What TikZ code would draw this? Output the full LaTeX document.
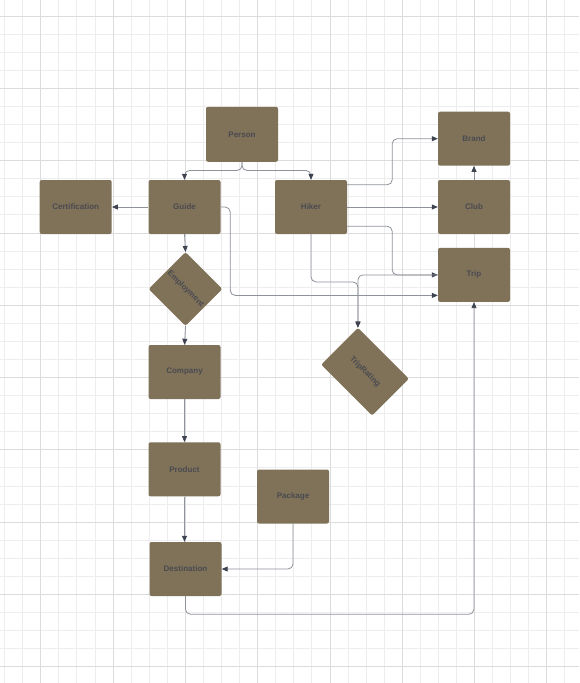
\documentclass[tikz,border=0pt]{standalone}
\usepackage{fontspec}
\setmainfont{Liberation Sans}
\usetikzlibrary{arrows.meta,calc}
\definecolor{boxc}{HTML}{7F7259}
\definecolor{textc}{HTML}{4A4A50}
\definecolor{linec}{HTML}{8E9299}
\definecolor{arrc}{HTML}{3D4350}
\definecolor{gridminor}{HTML}{EDEDED}
\definecolor{gridmajor}{HTML}{DCDCDC}
\tikzset{
  entity/.style={rectangle, rounded corners=2pt, fill=boxc, minimum width=72pt, minimum height=54pt, inner sep=0pt, font=\bfseries\fontsize{8}{9}\selectfont, text=textc},
  conn/.style={draw=linec, line width=0.8pt, rounded corners=5pt, -{Triangle[length=6pt,width=5pt,color=arrc]}},
  plain/.style={draw=linec, line width=0.8pt, rounded corners=5pt}
}
\begin{document}
\begin{tikzpicture}[x=1pt,y=-1pt]
\useasboundingbox (0,0) rectangle (579,683);
\fill[white] (0,0) rectangle (579,683);
% grid
\foreach \i in {0,...,32} {
  \draw[gridminor, line width=0.8pt] ({4.55+18.075*\i},0) -- ({4.55+18.075*\i},683);
}
\foreach \j in {0,...,38} {
  \draw[gridminor, line width=0.8pt] (0,{-2.075+18.075*\j}) -- (579,{-2.075+18.075*\j});
}
\foreach \i in {0,...,7} {
  \draw[gridmajor, line width=0.8pt] ({40.7+72.3*\i},0) -- ({40.7+72.3*\i},683);
}
\foreach \j in {0,...,9} {
  \draw[gridmajor, line width=0.8pt] (0,{16+72.3*\j}) -- (579,{16+72.3*\j});
}
% nodes
\node[entity, minimum height=55pt] (Person) at (242,134.3) {Person};
\node[entity] (Guide) at (184.5,207) {Guide};
\node[entity] (Certification) at (75.7,207) {Certification};
\node[entity] (Hiker) at (311,207) {Hiker};
\node[entity] (Brand) at (474,138.7) {Brand};
\node[entity] (Club) at (474,207) {Club};
\node[entity] (Trip) at (474,274.9) {Trip};
\node[entity, minimum width=52pt, minimum height=52pt, rotate=-45] (Employment) at (185.5,289) {Employment};
\node[entity, minimum height=52pt, rotate=-45] (TripRating) at (365,371.7) {TripRating};
\node[entity] (Company) at (184.5,372) {Company};
\node[entity] (Product) at (184.5,469.3) {Product};
\node[entity] (Package) at (293,496.5) {Package};
\node[entity] (Destination) at (185.5,569) {Destination};
% connectors
\draw[conn] (Person.south) -- ++(0,8.5) -| (Guide.north);
\draw[conn] (Person.south) -- ++(0,8.5) -| (Hiker.north);
\draw[conn] (Guide.west) -- (Certification.east);
\draw[conn] (Guide.east) -- ++(9.5,0) |- ($(Trip.south west)+(0,-6.7)$);
\draw[conn] (Guide.south) -- (Employment.north west);
\draw[conn] (Employment.south east) -- (Company.north);
\draw[conn] (Company.south) -- (Product.north);
\draw[conn] (Product.south) -- (Product.south |- Destination.north);
\draw[conn] (Package.south) |- (Destination.east);
\draw[conn] (Destination.south) -- ++(0,18) -| (Trip.south);
\draw[conn] ($(Hiker.north east)+(0,5)$) -- ++(45,0) |- (Brand.west);
\draw[conn] (Hiker.east) -- (Club.west);
\draw[conn] ($(Hiker.south east)+(0,-8)$) -- ++(45,0) |- (Trip.west);
\draw[conn] (Hiker.south) -- ++(0,47.7) -| (TripRating.north west);
\draw[conn] (Trip.west) -| (TripRating.north west);
\draw[conn] (Club.north) -- (Brand.south);
\end{tikzpicture}
\end{document}
